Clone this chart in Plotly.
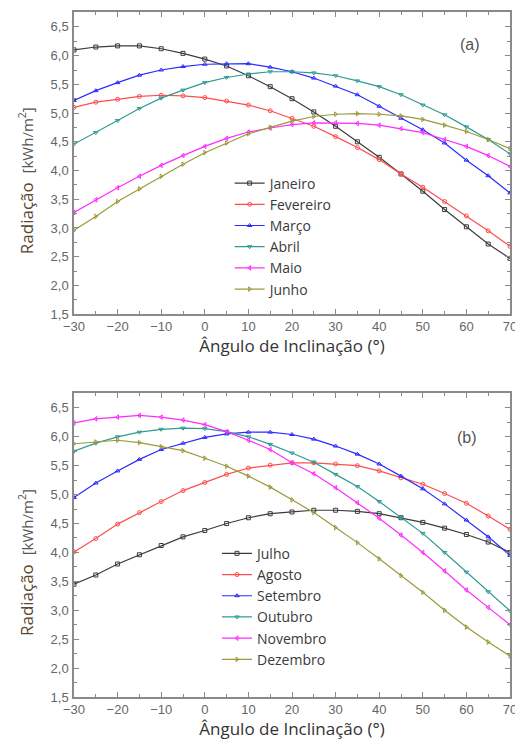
import plotly.graph_objects as go

angles = [-30, -25, -20, -15, -10, -5, 0, 5, 10, 15, 20, 25, 30, 35, 40, 45, 50, 55, 60, 65, 70]

# Panel (a)
janeiro = [6.10, 6.15, 6.17, 6.17, 6.12, 6.04, 5.94, 5.82, 5.65, 5.46, 5.25, 5.02, 4.77, 4.50, 4.23, 3.94, 3.64, 3.32, 3.02, 2.72, 2.47]
fevereiro = [5.10, 5.19, 5.24, 5.29, 5.31, 5.30, 5.27, 5.21, 5.14, 5.04, 4.91, 4.77, 4.59, 4.40, 4.19, 3.94, 3.71, 3.46, 3.21, 2.95, 2.68]
marco = [5.22, 5.39, 5.53, 5.66, 5.75, 5.81, 5.85, 5.86, 5.86, 5.80, 5.72, 5.61, 5.47, 5.32, 5.12, 4.91, 4.71, 4.48, 4.18, 3.91, 3.61]
abril = [4.46, 4.66, 4.87, 5.08, 5.26, 5.40, 5.53, 5.62, 5.68, 5.72, 5.72, 5.70, 5.65, 5.56, 5.46, 5.32, 5.14, 4.97, 4.76, 4.54, 4.29]
maio = [3.27, 3.49, 3.70, 3.90, 4.09, 4.26, 4.42, 4.56, 4.67, 4.74, 4.80, 4.83, 4.83, 4.82, 4.79, 4.73, 4.66, 4.54, 4.42, 4.26, 4.07]
junho = [2.96, 3.20, 3.46, 3.68, 3.90, 4.11, 4.31, 4.48, 4.64, 4.75, 4.86, 4.94, 4.98, 4.99, 4.98, 4.95, 4.89, 4.79, 4.68, 4.54, 4.38]

# Panel (b)
julho = [3.45, 3.61, 3.80, 3.96, 4.12, 4.27, 4.38, 4.50, 4.60, 4.67, 4.70, 4.73, 4.73, 4.71, 4.67, 4.60, 4.52, 4.42, 4.31, 4.18, 4.00]
agosto = [4.01, 4.24, 4.49, 4.69, 4.88, 5.07, 5.21, 5.35, 5.46, 5.51, 5.55, 5.55, 5.53, 5.50, 5.41, 5.29, 5.18, 5.02, 4.85, 4.63, 4.40]
setembro = [4.95, 5.20, 5.41, 5.61, 5.78, 5.89, 5.99, 6.05, 6.08, 6.08, 6.04, 5.96, 5.84, 5.70, 5.53, 5.32, 5.10, 4.84, 4.56, 4.27, 3.95]
outubro = [5.75, 5.89, 6.00, 6.08, 6.13, 6.15, 6.14, 6.09, 6.00, 5.87, 5.72, 5.56, 5.35, 5.14, 4.88, 4.60, 4.33, 4.00, 3.66, 3.32, 2.99]
novembro = [6.24, 6.31, 6.34, 6.37, 6.34, 6.29, 6.21, 6.09, 5.94, 5.78, 5.55, 5.36, 5.12, 4.86, 4.59, 4.30, 4.00, 3.68, 3.35, 3.05, 2.75]
dezembro = [5.88, 5.91, 5.94, 5.90, 5.83, 5.76, 5.63, 5.49, 5.32, 5.13, 4.91, 4.69, 4.43, 4.17, 3.89, 3.60, 3.31, 3.00, 2.71, 2.45, 2.21]

names_a = ["Janeiro", "Fevereiro", "Março", "Abril", "Maio", "Junho"]
names_b = ["Julho", "Agosto", "Setembro", "Outubro", "Novembro", "Dezembro"]
series_a = [janeiro, fevereiro, marco, abril, maio, junho]
series_b = [julho, agosto, setembro, outubro, novembro, dezembro]

colors = ["#3c3c3c", "#ff4d4d", "#2b2bff", "#2e9a94", "#ff2bff", "#9a9a3a"]
symbols = ["square-open", "circle-open", "triangle-up-open", "triangle-down-open",
           "triangle-left-open", "triangle-right-open"]

fig = go.Figure()
for name, ys, c, s in zip(names_a, series_a, colors, symbols):
    fig.add_trace(go.Scatter(x=angles, y=ys, name=name, mode="lines+markers",
                             line=dict(color=c, width=1.2),
                             marker=dict(symbol=s, size=4, color=c, line=dict(color=c, width=1)),
                             xaxis="x", yaxis="y", legend="legend"))
for name, ys, c, s in zip(names_b, series_b, colors, symbols):
    fig.add_trace(go.Scatter(x=angles, y=ys, name=name, mode="lines+markers",
                             line=dict(color=c, width=1.2),
                             marker=dict(symbol=s, size=4, color=c, line=dict(color=c, width=1)),
                             xaxis="x2", yaxis="y2", legend="legend2"))

axis_common = dict(
    showline=True, linecolor="#8a8a8a", linewidth=1.5, mirror="allticks",
    ticks="inside", ticklen=5, tickwidth=1, tickcolor="#8a8a8a",
    showgrid=False, zeroline=False, automargin=False,
    tickfont=dict(family="Liberation Sans, Arial", size=13, color="#666666"),
)
xaxis_common = dict(axis_common, range=[-30, 70], dtick=10, tick0=-30,
                    minor=dict(ticks="inside", ticklen=3, dtick=5, tick0=-30, tickcolor="#8a8a8a"))
yaxis_common = dict(axis_common, range=[1.5, 6.76], dtick=0.5, tick0=1.5, tickformat=".1f",
                    ticklabelstandoff=1,
                    minor=dict(ticks="inside", ticklen=3, dtick=0.25, tick0=1.5, tickcolor="#8a8a8a"))

xtitle = dict(text="Ângulo de Inclinação (°)",
              font=dict(family="Open Sans", size=17, color="#333333"), standoff=4)
ytitle = dict(text="<span style='color:#5a4632'>Radiação</span>  "
                   "<span style='font-size:15px;color:#555555'>[kWh/m<sup>2</sup>]</span>"
                   "&nbsp;&nbsp;&nbsp;&nbsp;&nbsp;&nbsp;&nbsp;&nbsp;",
              font=dict(family="Open Sans", size=17, color="#333333"), standoff=13)

legend_common = dict(bgcolor="rgba(0,0,0,0)", borderwidth=0,
                     font=dict(family="Open Sans", size=14, color="#3a3a3a"),
                     xanchor="left", yanchor="top", itemwidth=30)

fig.update_layout(
    template="none",
    width=515, height=732,
    margin=dict(l=66, r=13, t=4, b=43, autoexpand=False),
    paper_bgcolor="white", plot_bgcolor="white",
    separators=",.",
    xaxis=dict(xaxis_common, domain=[0, 1], anchor="y", title=xtitle),
    yaxis=dict(yaxis_common, domain=[0.559, 1], anchor="x", title=ytitle),
    xaxis2=dict(xaxis_common, domain=[0, 1], anchor="y2", title=xtitle),
    yaxis2=dict(yaxis_common, domain=[0, 0.444], anchor="x2", title=ytitle),
    legend=dict(legend_common, x=0.357, y=0.773),
    legend2=dict(legend_common, x=0.328, y=0.2325),
    annotations=[
        dict(text="(a)", xref="x domain", yref="y domain", x=0.908, y=0.891,
             xanchor="center", yanchor="middle", showarrow=False,
             font=dict(family="Liberation Sans, Arial", size=16, color="#555555")),
        dict(text="(b)", xref="x2 domain", yref="y2 domain", x=0.901, y=0.852,
             xanchor="center", yanchor="middle", showarrow=False,
             font=dict(family="Liberation Sans, Arial", size=16, color="#555555")),
    ],
)

fig.write_html("out.html")
